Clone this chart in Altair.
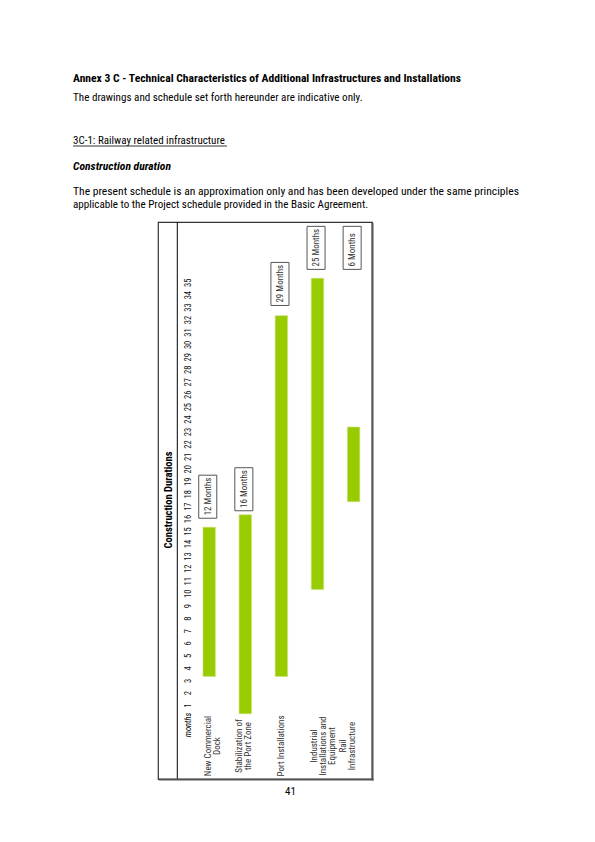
import altair as alt
import pandas as pd

# ---------------- data ----------------
tasks = ["New Commercial\nDock", "Stabilization of\nthe Port Zone", "Port Installations",
         "Industrial\nInstallations and\nEquipment", "Rail\nInfrastructure"]
start_month = [3.35, 0.35, 3.35, 10.35, 17.4]
end_month = [15.35, 16.35, 32.35, 35.35, 23.4]
duration_labels = ["12 Months", "16 Months", "29 Months", "25 Months", "6 Months"]
label_anchor = [17.8, 18.4, 34.9, 37.8, 37.8]
months = list(range(1, 36))

page_title = "Annex 3 C - Technical Characteristics of Additional Infrastructures and Installations"
page_intro = "The drawings and schedule set forth hereunder are indicative only."
section = "3C-1: Railway related infrastructure"
subsection = "Construction duration"
para1 = "The present schedule is an approximation only and has been developed under the same principles"
para2 = "applicable to the Project schedule provided in the Basic Agreement."
chart_title = "Construction Durations"
months_word = "months"
page_number = "41"

FONT = "Roboto Condensed"

# ---------------- geometry ----------------
W, H = 214, 557
LEFT, TOP = 158, 222

df = pd.DataFrame({
    "task": tasks,
    "col": list(range(len(tasks))),
    "start": start_month,
    "end": end_month,
    "dur": duration_labels,
    "anchor": label_anchor,
})
mdf = pd.DataFrame({"m": months, "lab": [str(m) for m in months]})

xs = alt.Scale(domain=[-1.418, 4.51], nice=False, zero=False)
ys = alt.Scale(domain=[-4.89, 39.88], nice=False, zero=False)

base = alt.Chart(df)

bars = base.transform_calculate(
    x1="datum.col - 0.172", x2="datum.col + 0.172"
).mark_rect(color="#99cc00", stroke="#c4e27a", strokeWidth=0.6).encode(
    x=alt.X("x1:Q", scale=xs, axis=None),
    x2="x2:Q",
    y=alt.Y("start:Q", scale=ys, axis=None),
    y2="end:Q",
)

boxes = base.transform_calculate(
    bx1="datum.col - 0.29", bx2="datum.col + 0.21",
    by1="datum.anchor - 1.73", by2="datum.anchor + 1.73"
).mark_rect(fill="white", stroke="#555555", strokeWidth=1).encode(
    x=alt.X("bx1:Q", scale=xs, axis=None),
    x2="bx2:Q",
    y=alt.Y("by1:Q", scale=ys, axis=None),
    y2="by2:Q",
)

box_text = base.transform_calculate(
    tx="datum.col - 0.04", ty="datum.anchor - 1.5"
).mark_text(angle=270, align="left", baseline="middle", font=FONT, fontSize=9,
            color="#333333").encode(
    x=alt.X("tx:Q", scale=xs, axis=None),
    y=alt.Y("ty:Q", scale=ys, axis=None),
    text="dur:N",
)

month_text = alt.Chart(mdf).mark_text(angle=270, align="center", baseline="middle",
                                      font=FONT, fontSize=8.5, color="#111111").encode(
    x=alt.value(29.5),
    y=alt.Y("m:Q", scale=ys, axis=None),
    text="lab:N",
)

label_dx = [-0.7, -5.8, 0, -3, -10.3]
cat_layers = []
for i, t in enumerate(tasks):
    cat_layers.append(
        alt.Chart(df.iloc[[i]]).mark_text(angle=270, align="center", baseline="middle",
                                          font=FONT, fontSize=9, lineHeight=8.8,
                                          lineBreak="\n", color="#333333",
                                          dy=label_dx[i]).encode(
            x=alt.X("col:Q", scale=xs, axis=None),
            y=alt.value(746 - TOP),
            text="task:N",
        )
    )


def txt(s, x, y, size=11, weight="normal", style="normal", align="left", angle=0,
        baseline="alphabetic", color="#000000"):
    kw = dict(align=align, baseline=baseline, font=FONT, fontSize=size,
              fontWeight=weight, fontStyle=style, color=color)
    if angle:
        kw["angle"] = angle
    return alt.Chart(pd.DataFrame({"t": [s]})).mark_text(**kw).encode(
        x=alt.value(x), y=alt.value(y), text="t:N")


inner_line = alt.Chart(pd.DataFrame({"a": [0]})).mark_rule(color="#000000", strokeWidth=1).encode(
    x=alt.value(19.3), y=alt.value(0), y2=alt.value(H))
shadow_r = alt.Chart(pd.DataFrame({"a": [0]})).mark_rule(color="#555555", strokeWidth=2).encode(
    x=alt.value(W + 0.5), y=alt.value(1), y2=alt.value(H + 1.5))
shadow_b = alt.Chart(pd.DataFrame({"a": [0]})).mark_rule(color="#555555", strokeWidth=2).encode(
    y=alt.value(H + 0.5), x=alt.value(1), x2=alt.value(W + 1.5))
underline = alt.Chart(pd.DataFrame({"a": [0]})).mark_rule(color="#000000", strokeWidth=0.8).encode(
    y=alt.value(146 - TOP), x=alt.value(73 - LEFT), x2=alt.value(227 - LEFT))

layers = [
    inner_line, shadow_r, shadow_b, bars, boxes, box_text, month_text, *cat_layers,
    txt(chart_title, 169 - LEFT, 500 - TOP, size=10.5, weight="bold", align="center",
        angle=270, baseline="middle"),
    txt(months_word, 29.5, 725 - TOP, size=8.5, style="italic", align="center",
        angle=270, baseline="middle"),
    txt(page_title, 73 - LEFT, 82 - TOP, size=11.6, weight="bold"),
    txt(page_intro, 73 - LEFT, 101 - TOP, size=11.1),
    txt(section, 73 - LEFT, 144 - TOP),
    underline,
    txt(subsection, 73 - LEFT, 170 - TOP, size=11.6, weight="bold", style="italic"),
    txt(para1, 73 - LEFT, 195 - TOP, size=11.6),
    txt(para2, 73 - LEFT, 208 - TOP, size=11.1),
    txt(page_number, 290.5 - LEFT, 795 - TOP, size=11, align="center"),
]

chart = alt.layer(*layers).properties(
    width=W, height=H,
    autosize=alt.AutoSizeParams(type="none"),
    padding={"left": LEFT, "top": TOP, "right": 595 - LEFT - W, "bottom": 842 - TOP - H},
    background="white",
).configure_view(stroke="#333333", strokeWidth=1.2)

chart.save("out.html", embed_options={"renderer": "svg", "actions": False})
